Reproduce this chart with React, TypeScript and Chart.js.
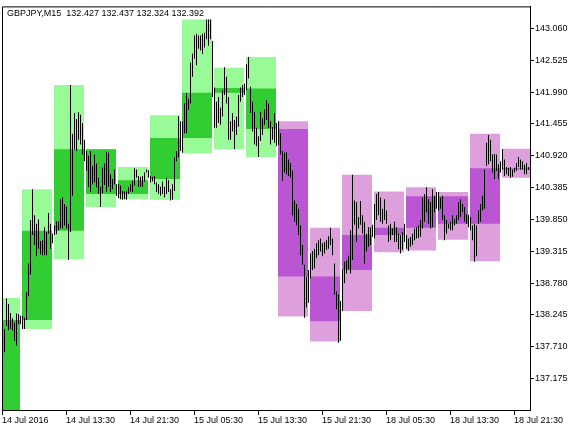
import { useEffect, useRef } from "react";
import { Chart, registerables } from "chart.js";

Chart.register(...registerables);

// ---- header text ----
const symbolHeader = "GBPJPY,M15  132.427 132.437 132.324 132.392";

// ---- M15 bars (index 0 = 14 Jul 05:30), high / low ----
const barHigh = [
  138.14, 138.01, 138.52, 138.43, 138.28, 138.19, 138.12, 138.27, 138.26, 138.23,
  138.23, 138.20, 138.63, 139.11, 139.84, 140.36, 139.92, 139.78, 139.85, 139.49,
  139.50, 139.72, 139.64, 139.96, 139.78, 139.61, 139.75, 139.82, 139.81, 140.19,
  140.22, 140.11, 140.07, 139.78, 142.11, 141.29, 141.64, 141.54, 141.65, 141.61,
  141.47, 141.19, 141.00, 140.92, 141.00, 140.75, 140.94, 140.79, 140.55, 140.40,
  140.72, 140.79, 140.99, 140.97, 140.61, 140.53, 140.69, 140.44, 140.44, 140.42,
  140.33, 140.32, 140.32, 140.39, 140.44, 140.50, 140.71, 140.69, 140.58, 140.57,
  140.58, 140.64, 140.69, 140.68, 140.58, 140.57, 140.58, 140.47, 140.44, 140.40,
  140.49, 140.40, 140.55, 140.51, 140.36, 140.44, 140.89, 141.00, 141.59, 141.50,
  141.50, 141.80, 141.97, 141.88, 142.49, 142.64, 142.94, 142.97, 142.94, 142.94,
  142.97, 142.99, 143.21, 143.21, 143.21, 142.85, 142.07, 141.83, 141.91, 141.73,
  142.02, 142.41, 142.25, 141.91, 141.50, 141.64, 141.52, 141.58, 141.94, 142.07,
  142.11, 142.13, 142.46, 142.58, 142.08, 141.83, 141.66, 141.39, 141.25, 141.66,
  141.55, 141.70, 141.86, 141.80, 141.50, 141.41, 141.64, 141.47, 141.50, 141.30,
  141.00, 140.97, 140.98, 140.86, 140.80, 140.67, 140.17, 140.11, 140.03, 139.75,
  139.42, 139.09, 138.89, 139.00, 139.28, 139.32, 139.36, 139.45, 139.50, 139.53,
  139.45, 139.47, 139.50, 139.57, 139.71, 139.53, 139.11, 138.64, 138.59, 138.48,
  139.01, 139.14, 139.16, 139.24, 139.67, 140.60, 140.17, 140.14, 139.89, 140.16,
  139.92, 139.81, 139.61, 139.72, 139.72, 139.76, 140.11, 140.28, 140.31, 140.22,
  140.03, 140.19, 140.00, 139.75, 139.78, 139.70, 139.81, 139.72, 139.61, 139.59,
  139.64, 139.78, 139.59, 139.53, 139.56, 139.61, 139.70, 139.72, 139.75, 139.84,
  140.22, 140.28, 140.39, 140.19, 140.14, 140.36, 140.25, 140.31, 140.31, 140.22,
  140.25, 139.92, 139.84, 139.78, 139.81, 139.92, 139.86, 139.92, 140.14, 140.19,
  140.11, 140.06, 139.94, 139.93, 139.89, 139.75, 139.78, 139.75, 140.00, 140.11,
  140.25, 140.69, 141.14, 141.27, 141.19, 140.94, 140.95, 140.94, 140.78, 140.83,
  141.03, 140.86, 140.73, 140.72, 140.73, 140.69, 140.72, 140.80, 140.90, 140.86,
  140.83, 140.77, 140.80, 140.73,
];
const barLow = [
  137.73, 137.62, 138.06, 137.99, 138.01, 137.98, 137.81, 137.73, 138.09, 138.09,
  138.01, 138.01, 138.16, 138.56, 138.92, 139.59, 139.42, 139.23, 139.36, 139.26,
  139.25, 139.25, 139.25, 139.61, 139.36, 139.45, 139.59, 139.60, 139.67, 139.70,
  139.70, 139.75, 139.70, 139.17, 139.64, 140.25, 141.03, 141.00, 141.19, 141.11,
  140.94, 140.83, 140.67, 140.39, 140.31, 140.44, 140.47, 140.39, 140.28, 140.06,
  140.29, 140.43, 140.31, 140.40, 140.31, 140.36, 140.44, 140.25, 140.21, 140.19,
  140.18, 140.19, 140.18, 140.28, 140.32, 140.31, 140.42, 140.55, 140.40, 140.40,
  140.40, 140.49, 140.64, 140.55, 140.47, 140.49, 140.44, 140.31, 140.28, 140.25,
  140.28, 140.22, 140.28, 140.31, 140.17, 140.18, 140.33, 140.83, 140.89, 141.00,
  140.97, 141.30, 141.30, 141.69, 141.80, 142.25, 142.55, 142.44, 142.72, 142.69,
  142.63, 142.74, 142.88, 142.77, 142.88, 141.91, 141.39, 141.39, 141.47, 141.44,
  141.58, 141.94, 141.80, 141.19, 141.19, 141.33, 141.03, 141.27, 141.41, 141.83,
  141.91, 141.94, 142.02, 142.22, 141.64, 141.33, 141.11, 141.08, 140.90, 141.17,
  141.27, 141.44, 141.52, 141.39, 141.11, 141.19, 141.14, 141.08, 141.10, 140.94,
  140.50, 140.64, 140.61, 140.58, 140.55, 139.92, 139.81, 139.75, 139.59, 139.25,
  139.09, 138.20, 138.37, 138.45, 138.86, 139.00, 139.03, 139.20, 139.25, 139.31,
  139.23, 139.28, 139.34, 139.36, 139.42, 139.25, 138.59, 138.34, 137.78, 137.81,
  138.31, 138.78, 138.94, 139.01, 138.94, 139.17, 139.76, 139.47, 139.70, 139.76,
  139.61, 139.11, 139.31, 139.39, 139.42, 139.56, 139.53, 139.84, 139.92, 139.81,
  139.78, 139.84, 139.78, 139.47, 139.50, 139.59, 139.47, 139.47, 139.35, 139.28,
  139.34, 139.47, 139.36, 139.32, 139.39, 139.42, 139.50, 139.53, 139.54, 139.56,
  139.70, 139.81, 139.97, 139.78, 139.70, 139.72, 139.97, 140.03, 140.00, 140.03,
  139.84, 139.50, 139.61, 139.70, 139.67, 139.67, 139.75, 139.78, 139.84, 139.89,
  139.97, 139.81, 139.78, 139.72, 139.67, 139.50, 139.14, 139.23, 139.78, 139.81,
  140.00, 140.03, 140.75, 140.78, 140.83, 140.64, 140.53, 140.67, 140.53, 140.64,
  140.69, 140.58, 140.61, 140.58, 140.55, 140.57, 140.64, 140.67, 140.73, 140.69,
  140.69, 140.61, 140.61, 140.68,
];

// ---- H4 candles drawn as boxes (start = M15 bar index of the H4 open) ----
const boxStartBar = [-6, 10, 26, 42, 58, 74, 90, 106, 122, 138, 154, 170, 186, 202, 218, 234, 250];
const boxOpen = [136.50, 138.16, 139.66, 141.03, 140.28, 140.53, 141.22, 141.98, 142.05, 141.37, 138.89, 139.00, 139.59, 139.71, 140.24, 139.78, 140.71];
const boxClose = [138.16, 139.66, 141.03, 140.28, 140.51, 141.22, 141.98, 142.06, 141.37, 138.89, 138.14, 139.59, 139.71, 140.24, 139.78, 140.71, 140.69];
const boxHigh = [138.53, 140.36, 142.11, 141.03, 140.73, 141.60, 143.21, 142.40, 142.58, 141.50, 139.71, 140.60, 140.32, 140.39, 140.31, 141.29, 141.04];
const boxLow = [136.40, 138.01, 139.18, 140.06, 140.19, 140.18, 140.96, 141.03, 140.90, 138.22, 137.80, 138.31, 139.30, 139.33, 139.51, 139.15, 140.55];
const boxTrend = ["up", "up", "up", "up", "up", "up", "up", "up", "up", "down", "down", "down", "down", "down", "down", "down", "down"];

// ---- axes ----
const timeTickBars = [0, 32, 64, 96, 128, 160, 192, 224, 256];
const timeTickLabels = [
  "14 Jul 2016", "14 Jul 13:30", "14 Jul 21:30", "15 Jul 05:30", "15 Jul 13:30",
  "15 Jul 21:30", "18 Jul 05:30", "18 Jul 13:30", "18 Jul 21:30",
];
const priceTicks = [137.175, 137.71, 138.245, 138.78, 139.315, 139.85, 140.385, 140.92, 141.455, 141.99, 142.525, 143.06];
const priceMin = 136.648;
const priceMax = 143.431;
const barCount = 264;
const barsPerBox = 16;

const FONT_FAMILY = '"Liberation Sans", Arial, sans-serif';
const colors = {
  up: { range: "#98FB98", body: "#32CD32" },
  down: { range: "#DDA0DD", body: "#BA55D3" },
};

const framePlugin = {
  id: "mtFrame",
  afterDraw(chart: any) {
    const { ctx, chartArea } = chart;
    const { left, top, right, bottom } = chartArea;
    ctx.save();
    ctx.strokeStyle = "#000";
    ctx.lineWidth = 1;
    ctx.beginPath();
    ctx.moveTo(left + 0.5, bottom + 1);
    ctx.lineTo(left + 0.5, top + 0.5);
    ctx.lineTo(right + 1, top + 0.5);
    ctx.stroke();
    ctx.font = `9px ${FONT_FAMILY}`;
    ctx.fillStyle = "#000";
    ctx.textBaseline = "alphabetic";
    ctx.textAlign = "left";
    ctx.fillText(symbolHeader, left + 5, top + 9.5);
    ctx.restore();
  },
};

export default function App() {
  const canvasRef = useRef<HTMLCanvasElement | null>(null);

  useEffect(() => {
    const canvas = canvasRef.current;
    if (!canvas) return;

    const half = (barsPerBox - 1) / 2;
    const barData = barHigh.map((h, i) => ({ x: i, y: [barLow[i], h] }));
    const bodyData = boxStartBar.map((s, k) => ({ x: s + half, y: [boxOpen[k], boxClose[k]] }));
    const rangeData = boxStartBar.map((s, k) => ({ x: s + half, y: [boxLow[k], boxHigh[k]] }));
    const bodyColors = boxTrend.map((t) => (colors as any)[t].body);
    const rangeColors = boxTrend.map((t) => (colors as any)[t].range);

    const tickFont = { family: FONT_FAMILY, size: 9 };

    const chart = new Chart(canvas, {
      type: "bar",
      data: {
        datasets: [
          {
            label: "M15",
            data: barData as any,
            xAxisID: "xb",
            yAxisID: "y",
            backgroundColor: "#000000",
            barThickness: 1,
            grouped: false,
            order: 0,
            inflateAmount: 0,
            borderWidth: 0,
            clip: 0,
          } as any,
          {
            label: "H4 body",
            data: bodyData as any,
            xAxisID: "x",
            yAxisID: "y",
            backgroundColor: bodyColors,
            barThickness: 30,
            grouped: false,
            order: 1,
            inflateAmount: 0,
            borderWidth: 0,
            clip: 0,
          } as any,
          {
            label: "H4 range",
            data: rangeData as any,
            xAxisID: "x",
            yAxisID: "y",
            backgroundColor: rangeColors,
            barThickness: 30,
            grouped: false,
            order: 2,
            inflateAmount: 0,
            borderWidth: 0,
            clip: 0,
          } as any,
        ],
      },
      options: {
        animation: false,
        responsive: false,
        events: [],
        layout: { padding: { left: 2, top: 2, right: 0, bottom: 0 } },
        plugins: {
          legend: { display: false },
          tooltip: { enabled: false },
          title: { display: false },
        },
        scales: {
          x: {
            type: "linear",
            axis: "x",
            position: "bottom",
            min: 0,
            max: barCount,
            bounds: "data",
            offset: false,
            afterBuildTicks: (scale: any) => {
              scale.ticks = timeTickBars.map((v) => ({ value: v }));
            },
            afterFit: (scale: any) => {
              scale.height = 20;
            },
            ticks: {
              autoSkip: false,
              maxRotation: 0,
              minRotation: 0,
              align: "start",
              padding: 0,
              color: "#000",
              font: tickFont,
              callback: (_v: any, idx: number) => timeTickLabels[idx],
            },
            grid: { drawOnChartArea: false, drawTicks: true, tickLength: 5, color: "#000", offset: false },
            border: { display: true, color: "#000", width: 1 },
          },
          xb: {
            type: "linear",
            axis: "x",
            display: false,
            min: -0.25,
            max: barCount - 0.25,
            bounds: "data",
            offset: false,
          },
          y: {
            type: "linear",
            position: "right",
            min: priceMin,
            max: priceMax,
            bounds: "data",
            afterBuildTicks: (scale: any) => {
              scale.ticks = priceTicks.map((v) => ({ value: v }));
            },
            afterFit: (scale: any) => {
              scale.width = 52;
            },
            ticks: {
              padding: 1,
              color: "#000",
              font: tickFont,
              callback: (v: any) => Number(v).toFixed(3),
            },
            grid: { drawOnChartArea: false, drawTicks: true, tickLength: 4, color: "#000" },
            border: { display: true, color: "#000", width: 1 },
          },
        } as any,
      },
      plugins: [framePlugin],
    });

    return () => chart.destroy();
  }, []);

  return (
    <div style={{ position: "fixed", left: 0, top: 0, width: 582, height: 430, background: "#fff" }}>
      <canvas ref={canvasRef} width={582} height={430} style={{ display: "block" }} />
    </div>
  );
}
